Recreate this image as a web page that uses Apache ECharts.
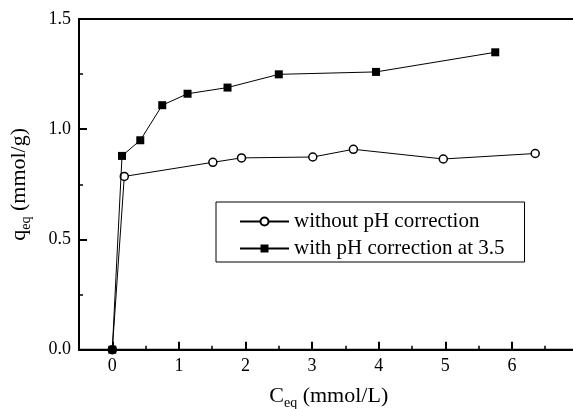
<!DOCTYPE html>
<html>
<head>
<meta charset="utf-8">
<script src="https://cdn.jsdelivr.net/npm/echarts@6/dist/echarts.min.js"></script>
<style>html,body{margin:0;padding:0;background:#fff}#c{width:573px;height:409px}</style>
</head>
<body>
<div id="c"></div>
<script>
// Data
const circX = [0, 0.18, 1.51, 1.94, 3.01, 3.62, 4.97, 6.35];
const circY = [0, 0.786, 0.850, 0.870, 0.874, 0.909, 0.865, 0.890];
const sqX = [0, 0.146, 0.42, 0.75, 1.13, 1.73, 2.50, 3.96, 5.75];
const sqY = [0, 0.879, 0.950, 1.109, 1.161, 1.189, 1.249, 1.260, 1.349];
const seriesNames = ['without pH correction', 'with pH correction at 3.5'];
const xTickLabels = [0, 1, 2, 3, 4, 5, 6];

const FONT = 'Liberation Serif';
const xMin = -0.5, xMax = 7, yMin = 0, yMax = 1.5;
const gLeft = 79, gTop = 19, gBottom = 59.3, gRightPx = 578.5, W = 573;
const gRight = W - gRightPx;
const left2 = gLeft + (0 - xMin) / (xMax - xMin) * (gRightPx - gLeft);

const chart = echarts.init(document.getElementById('c'), null, {renderer: 'canvas'});
const circData = circX.map((x, i) => [x, circY[i]]);
const sqData = sqX.map((x, i) => [x, sqY[i]]);

chart.setOption({
  backgroundColor: '#fff',
  animation: false,
  textStyle: {fontFamily: FONT, color: '#000'},
  grid: [
    {left: gLeft, top: gTop, bottom: gBottom, right: gRight, show: true, borderColor: '#000', borderWidth: 2, outerBoundsMode: 'none', containLabel: false},
    {left: left2, top: gTop, bottom: gBottom, right: gRight, show: false, outerBoundsMode: 'none', containLabel: false}
  ],
  legend: {
    left: 216, top: 202, orient: 'vertical',
    data: seriesNames,
    itemWidth: 49, itemHeight: 10, itemGap: 6,
    padding: [9, 20, 3, 23],
    borderColor: '#000', borderWidth: 1, backgroundColor: '#fff',
    textStyle: {fontFamily: FONT, fontSize: 21, color: '#000', lineHeight: 20}
  },
  xAxis: [
    {
      type: 'value', gridIndex: 0, min: xMin, max: xMax, interval: 0.5,
      splitLine: {show: false},
      axisLine: {onZero: false, lineStyle: {color: '#000', width: 2}},
      axisTick: {inside: true, length: 4, lineStyle: {color: '#000', width: 1.5}},
      axisLabel: {
        fontFamily: FONT, fontSize: 18, color: '#000', margin: 8,
        formatter: v => xTickLabels.indexOf(v) >= 0 ? String(v) : ''
      },
      name: '{m|C}{s|eq}{m| (mmol/L)}', nameLocation: 'middle', nameGap: 33,
      nameTextStyle: {
        rich: {
          m: {fontFamily: FONT, fontSize: 22, color: '#000', lineHeight: 28, verticalAlign: 'middle'},
          s: {fontFamily: FONT, fontSize: 14, color: '#000', lineHeight: 14, verticalAlign: 'bottom'}
        }
      }
    },
    {
      type: 'value', gridIndex: 1, min: 0, max: xMax, interval: 1,
      splitLine: {show: false},
      axisLine: {show: false, onZero: false},
      axisTick: {inside: true, length: 8, lineStyle: {color: '#000', width: 2}},
      axisLabel: {show: false}
    }
  ],
  yAxis: [
    {
      type: 'value', gridIndex: 0, min: yMin, max: yMax, interval: 0.5,
      splitLine: {show: false},
      axisLine: {onZero: false, lineStyle: {color: '#000', width: 2}},
      axisTick: {inside: true, length: 8, lineStyle: {color: '#000', width: 2}},
      minorTick: {show: true, splitNumber: 2, length: 4, lineStyle: {color: '#000', width: 1.5}},
      minorSplitLine: {show: false},
      axisLabel: {fontFamily: FONT, fontSize: 18, color: '#000', margin: 8, formatter: v => v.toFixed(1)},
      name: '{m|q}{s|eq}{m| (mmol/g)}', nameLocation: 'middle', nameGap: 46, nameRotate: 90,
      nameTextStyle: {
        rich: {
          m: {fontFamily: FONT, fontSize: 22, color: '#000', lineHeight: 28, verticalAlign: 'middle'},
          s: {fontFamily: FONT, fontSize: 14, color: '#000', lineHeight: 14, verticalAlign: 'bottom'}
        }
      }
    },
    {type: 'value', gridIndex: 1, min: yMin, max: yMax, show: false}
  ],
  series: [
    {
      name: seriesNames[0], type: 'line', xAxisIndex: 0, yAxisIndex: 0,
      data: circData, symbol: 'circle', symbolSize: 8,
      lineStyle: {color: '#000', width: 1},
      itemStyle: {color: '#fff', borderColor: '#000', borderWidth: 1.5},
      z: 2
    },
    {
      name: seriesNames[1], type: 'line', xAxisIndex: 0, yAxisIndex: 0,
      data: sqData, symbol: 'rect', symbolSize: 8,
      lineStyle: {color: '#000', width: 1},
      itemStyle: {color: '#000', borderColor: '#000', borderWidth: 0},
      z: 3
    }
  ]
});
</script>
</body>
</html>
